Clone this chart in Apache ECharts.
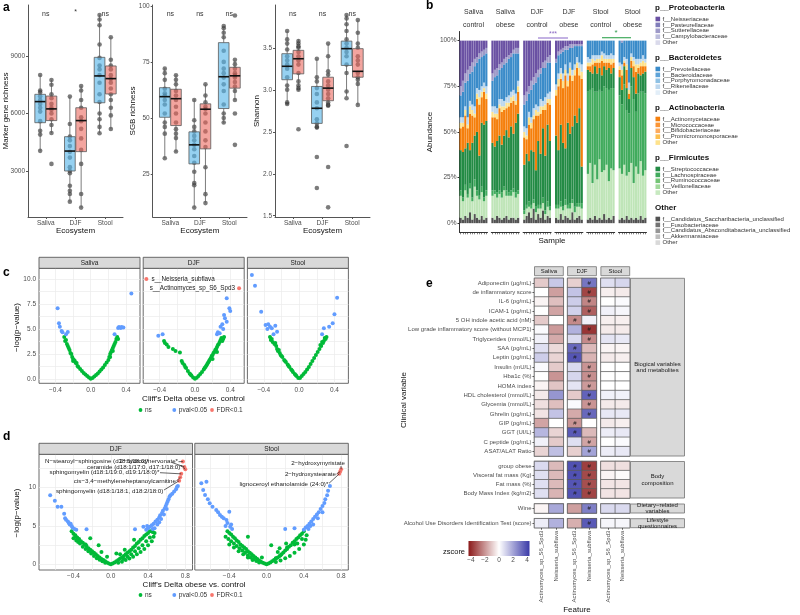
<!DOCTYPE html>
<html>
<head>
<meta charset="utf-8">
<script src="https://cdn.jsdelivr.net/npm/echarts@6.0.0/dist/echarts.min.js"></script>
<style>
  html, body { margin: 0; padding: 0; background: #fff; }
  #chart { width: 800px; height: 615px; }
</style>
</head>
<body>
<div id="chart"></div>
<script>
// ---------- panel a : marker gene richness / SGB richness / Shannon ----------
const ecosystems = ['Saliva', 'DJF', 'Stool'];

// points per ecosystem, box = [lower whisker, q1, median, q3, upper whisker]
const markerCtrlPts = [[8010, 7200, 7100, 6900, 6700, 6500, 6300, 6100, 5600, 5100, 4900, 4050],
  [6880, 5450, 4800, 4600, 4300, 4000, 3700, 3200, 3000, 2880, 2230, 1970, 1800, 1400],
  [11140, 10900, 10600, 9600, 8900, 8500, 8300, 8000, 7600, 7000, 6600, 6000, 5700, 5300, 4970]];
const markerObesePts = [[7750, 7500, 7000, 6800, 6500, 6300, 6200, 6000, 5700, 5400, 4980, 3370],
  [7430, 7200, 6700, 6300, 5800, 5600, 5200, 4700, 4100, 3370, 1800, 1090],
  [9980, 8800, 8500, 8300, 8000, 7800, 7600, 7300, 7000, 6700, 6300, 5900, 5190]];
const markerCtrlBox = [[4050, 5520, 6620, 7000, 8010], [1400, 3000, 4040, 4790, 6880], [4970, 6560, 7960, 8930, 11140]];
const markerObeseBox = [[4980, 5630, 6240, 6910, 7750], [1090, 4010, 5630, 6300, 7430], [5190, 7020, 7820, 8480, 9980]];
const markerSig = ['ns', '*', 'ns'];

const sgbCtrlPts = [[72, 70, 67, 63, 61, 60, 58, 56, 52, 48, 46, 43, 32],
  [58, 49, 46, 44, 42, 40, 38, 36, 33, 30, 26, 21, 20, 10],
  [91, 90, 88, 86, 80, 75, 72, 70, 68, 65, 62, 56, 52, 50, 48]];
const sgbObesePts = [[69, 67, 65, 62, 60, 58, 55, 52, 48, 45, 43, 41, 35],
  [65, 60, 57, 55, 54, 52, 48, 44, 40, 37, 28, 16, 12],
  [95.7, 76, 74, 72, 70, 69, 68, 66, 64, 62, 58, 52, 38]];
const sgbCtrlBox = [[32, 50.3, 59.5, 63.5, 72.2], [10, 29.5, 38, 43.8, 58.3], [47.6, 54.2, 68.4, 83.6, 91]];
const sgbObeseBox = [[34.8, 46.6, 58.6, 62.8, 69.2], [12.2, 36.2, 53.9, 56.3, 65], [58, 63.3, 68.8, 72.6, 75.9]];
const sgbSig = ['ns', 'ns', 'ns'];

const shanCtrlPts = [[3.70, 3.60, 3.55, 3.48, 3.40, 3.35, 3.30, 3.25, 3.15, 3.05, 3.00, 2.85, 2.83],
  [3.37, 3.15, 3.10, 3.02, 2.95, 2.85, 2.78, 2.65, 2.60, 2.56, 2.55, 2.20, 1.83],
  [3.89, 3.85, 3.78, 3.70, 3.60, 3.55, 3.50, 3.45, 3.40, 3.30, 3.20, 2.98, 2.90, 2.33]];
const shanObesePts = [[3.58, 3.55, 3.52, 3.50, 3.45, 3.40, 3.35, 3.30, 3.20, 3.10, 3.05, 3.02, 3.00, 2.53],
  [3.55, 3.40, 3.22, 3.18, 3.10, 3.05, 3.00, 2.95, 2.90, 2.85, 2.82, 2.81, 2.08, 1.60],
  [3.83, 3.68, 3.55, 3.50, 3.40, 3.35, 3.30, 3.20, 3.15, 3.12, 3.07, 2.82]];
const shanCtrlBox = [[2.84, 3.12, 3.28, 3.43, 3.70], [2.56, 2.60, 2.78, 3.04, 3.37], [2.92, 3.29, 3.49, 3.58, 3.89]];
const shanObeseBox = [[3.00, 3.19, 3.37, 3.47, 3.60], [2.81, 2.87, 3.02, 3.15, 3.55], [2.82, 3.15, 3.22, 3.49, 3.83]];
const shanSig = ['ns', 'ns', 'ns'];

// ---------- panel b : family abundance (%) per sample, 6 facets x 12 samples ----------
const bFacets = [['Saliva', 'control'], ['Saliva', 'obese'], ['DJF', 'control'], ['DJF', 'obese'], ['Stool', 'control'], ['Stool', 'obese']];
const sampleIds = ['1', '2', '3', '4', '5', '6', '7', '8', '9', '10', '11', '12'];
const abOther = [3,2,4,3,6,2,5,3,2,4,2,3, 3,2,4,3,2,3,4,2,3,3,2,3, 2,4,6,3,8,2,5,3,7,2,4,3,
  3,2,5,2,4,3,2,6,2,3,4,2, 2,3,2,4,2,3,2,5,2,3,2,4, 2,3,2,4,2,3,2,3,2,4,2,3];
const abFirmOther = [12,10,14,11,13,10,15,12,11,13,10,12, 12,14,10,13,12,15,11,13,12,14,12,13, 3,4,3,5,3,4,3,5,4,3,5,4,
  5,6,4,5,6,5,6,5,4,6,5,6, 25,30,20,28,22,32,26,24,30,20,28,25, 28,24,30,22,26,30,20,28,25,30,24,26];
const abLachno = [3,2,3,2,3,2,4,3,2,3,2,3, 3,2,3,2,3,2,3,2,3,2,3,2, 2,2,3,2,2,3,2,2,3,2,3,2,
  2,2,3,2,3,2,3,2,3,2,2,3, 45,40,52,40,48,38,44,46,42,50,44,45, 40,38,44,36,32,42,46,30,44,38,46,42];
const abStrep = [22,25,20,28,18,30,24,32,22,35,40,38, 26,24,28,30,26,28,33,30,35,30,38,42, 25,28,22,30,26,20,35,28,38,30,42,36,
  38,30,42,35,28,45,38,40,50,44,52,20, 12,10,8,14,10,12,9,11,10,12,8,11, 10,8,10,12,8,10,12,10,11,9,10,12];
const abActino = [12,14,18,8,20,15,10,18,28,14,18,12, 14,16,12,15,18,14,12,17,13,18,10,12, 15,8,20,12,18,30,14,22,10,25,12,20,
  22,35,25,30,40,20,32,25,22,30,18,48, 2,3,5,2,6,3,8,2,4,3,5,3, 4,8,2,10,3,4,6,12,3,5,4,3];
const abActOther = [3,2,3,2,4,3,2,3,4,3,2,3, 3,2,3,2,3,2,3,2,3,3,2,3, 3,2,4,3,2,3,2,4,2,3,2,3,
  3,4,3,4,3,3,4,3,3,3,4,4, 2,2,3,1,2,2,3,2,2,2,3,2, 2,3,1,3,2,2,3,4,2,2,3,2];
const abBacOther = [3,3,2,4,3,3,4,3,4,3,3,4, 3,4,3,3,4,3,3,4,3,3,4,3, 3,4,3,3,4,3,3,4,3,4,3,4,
  3,3,3,4,3,4,3,3,3,3,3,4, 3,2,2,3,2,2,2,3,2,2,3,2, 2,3,2,3,4,2,2,3,3,2,3,2];
const abPrevo = [12,14,13,20,15,18,22,14,17,16,15,18, 14,16,18,16,17,20,19,20,19,20,22,15, 12,15,10,15,13,12,16,14,18,16,17,16,
  12,10,8,12,8,13,8,12,10,6,9,10, 9,10,8,8,8,8,6,7,8,8,7,8, 12,12,9,10,23,7,9,10,10,10,8,10];
const abProOther = [5,6,5,6,4,5,4,3,3,3,3,3, 4,4,4,3,3,3,3,2,2,2,3,3, 5,5,4,5,4,5,4,3,3,4,3,4,
  2,2,2,2,2,2,2,2,1,1,1,1, 0,0,0,0,0,0,0,0,0,0,0,0, 0,1,0,0,0,0,0,0,0,0,0,0];
const abNeiss = [25,22,18,16,14,12,10,9,7,6,5,4, 18,16,15,13,12,10,9,8,7,5,4,4, 30,28,25,22,20,18,16,15,12,11,9,8,
  10,6,5,4,3,3,2,2,2,2,2,2, 0,0,0,0,0,0,0,0,0,0,0,0, 0,0,0,0,0,0,0,0,0,0,0,0];

const legProteo = ['f__Neisseriaceae', 'f__Pasteurellaceae', 'f__Sutterellaceae', 'f__Campylobacteraceae', 'Other'];
const legBactero = ['f__Prevotellaceae', 'f__Bacteroidaceae', 'f__Porphyromonadaceae', 'f__Rikenellaceae', 'Other'];
const legActino = ['f__Actinomycetaceae', 'f__Micrococcaceae', 'f__Bifidobacteriaceae', 'f__Promicromonosporaceae', 'Other'];
const legFirm = ['f__Streptococcaceae', 'f__Lachnospiraceae', 'f__Ruminococcaceae', 'f__Veillonellaceae', 'Other'];
const legOther = ['f__Candidatus_Saccharibacteria_unclassified', 'f__Fusobacteriaceae', 'f__Candidatus_Absconditabacteria_unclassified', 'f__Akkermansiaceae', 'Other'];

// ---------- panel c : species volcano [cliff's delta, -log p] ----------
const cSalivaNs = [[-0.30,4.2],[-0.29,3.8],[-0.28,3.9],[-0.27,3.5],[-0.26,3.3],[-0.25,3.1],[-0.24,2.9],[-0.23,2.6],[-0.22,2.5],[-0.21,2.2],[-0.20,2.0],[-0.19,1.9],[-0.18,1.8],[-0.17,1.6],[-0.16,1.6],[-0.15,1.3],[-0.14,1.2],[-0.12,1.0],[-0.10,0.8],[-0.08,0.6],[-0.06,0.45],[-0.04,0.3],[-0.02,0.15],[0,0.02],[0.02,0.1],[0.04,0.25],[0.06,0.4],[0.08,0.55],[0.10,0.75],[0.12,0.95],[0.14,1.15],[0.16,1.4],[0.18,1.65],[0.20,1.9],[0.21,2.2],[0.22,2.5],[0.23,2.7],[0.24,2.9],[0.25,3.1],[0.26,3.3],[0.27,3.5],[0.28,3.7],[0.29,4.0],[0.30,4.2],[0.25,2.8],[0.22,2.2],[-0.20,1.8],[0.31,4.0]];
const cSalivaP = [[-0.375,7.07],[-0.36,5.57],[-0.35,5.23],[-0.33,4.8],[-0.32,4.67],[-0.28,4.47],[-0.26,4.7],[0.27,4.47],[0.31,5.1],[0.32,5.2],[0.34,5.1],[0.35,5.2],[0.37,5.15],[0.46,8.55]];
const cSalivaFdr = [];
const cDjfNs = [[-0.35,3.8],[-0.34,3.6],[-0.32,3.45],[-0.30,3.2],[-0.25,3.0],[-0.22,2.8],[-0.17,2.65],[-0.15,1.8],[-0.14,1.6],[-0.12,1.4],[-0.11,1.2],[-0.10,1.1],[-0.08,0.8],[-0.06,0.55],[-0.05,0.45],[-0.04,0.35],[-0.02,0.15],[0,0.02],[0.02,0.12],[0.04,0.3],[0.06,0.5],[0.08,0.7],[0.10,0.95],[0.11,1.1],[0.12,1.2],[0.13,1.35],[0.14,1.5],[0.15,1.65],[0.16,1.8],[0.17,1.95],[0.18,2.1],[0.19,2.3],[0.20,2.4],[0.21,2.6],[0.22,2.7],[0.23,2.9],[0.24,3.0],[0.25,3.2],[0.26,3.4],[0.27,3.5],[0.28,3.7],[0.29,3.9],[0.30,4.1],[0.31,3.8],[0.32,4.0],[0.33,4.2],[0.20,2.0],[0.25,2.7]];
const cDjfP = [[-0.415,4.33],[-0.366,4.47],[0.25,4.47],[0.26,4.67],[0.28,4.57],[0.29,5.23],[0.31,5.47],[0.32,5.0],[0.33,6.4],[0.34,6.07],[0.36,5.73],[0.36,8.07],[0.39,7.07],[0.40,6.8]];
const cDjfFdr = [[-0.55,10.0],[0.50,9.07]];
const cDjfFdrNames = ['s__Neisseria_subflava', 's__Actinomyces_sp_S6_Spd3'];
const cStoolNs = [[-0.33,4.2],[-0.32,3.9],[-0.31,4.0],[-0.30,3.7],[-0.28,3.5],[-0.27,3.6],[-0.26,3.3],[-0.25,3.0],[-0.24,2.8],[-0.23,2.9],[-0.22,2.6],[-0.21,2.4],[-0.20,2.3],[-0.19,2.2],[-0.17,1.9],[-0.16,1.8],[-0.15,1.7],[-0.13,1.45],[-0.12,1.3],[-0.11,1.2],[-0.09,0.95],[-0.08,0.85],[-0.07,0.7],[-0.05,0.5],[-0.04,0.4],[-0.03,0.3],[-0.01,0.1],[0.01,0.1],[0.03,0.3],[0.05,0.5],[0.07,0.7],[0.09,0.95],[0.11,1.2],[0.13,1.5],[0.15,1.8],[0.17,2.1],[0.19,2.4],[0.21,2.7],[0.23,3.0],[0.24,3.4],[0.25,3.3],[0.26,3.7],[0.27,3.6],[0.28,3.8],[0.29,4.1],[0.30,4.0],[0.31,4.2]];
const cStoolP = [[-0.535,10.4],[-0.50,9.33],[-0.43,6.73],[-0.38,5.4],[-0.36,5.0],[-0.35,5.47],[-0.33,5.23],[-0.31,5.07],[-0.29,4.47],[-0.27,5.33],[-0.25,4.73],[0.26,4.47],[0.28,5.07],[0.34,5.23],[0.38,5.57],[0.40,6.47],[0.43,8.13]];
const cStoolFdr = [];

// ---------- panel d : metabolite volcano ----------
const dDjfNs = [[-0.42,4.3],[-0.40,4.0],[-0.38,3.8],[-0.36,3.5],[-0.34,3.3],[-0.32,3.0],[-0.30,2.8],[-0.28,2.6],[-0.26,2.4],[-0.24,2.1],[-0.22,1.9],[-0.20,1.7],[-0.18,1.5],[-0.16,1.3],[-0.14,1.1],[-0.12,0.9],[-0.10,0.7],[-0.08,0.55],[-0.06,0.4],[-0.04,0.25],[-0.02,0.1],[0,0],
  [-0.40,3.4],[-0.37,3.1],[-0.35,2.9],[-0.33,2.7],[-0.30,2.3],[-0.27,2.0],[-0.24,1.7],[-0.21,1.4],[-0.18,1.1],[-0.15,0.8],[-0.12,0.6],[-0.09,0.4],[-0.06,0.2],
  [-0.38,3.6],[-0.27,2.6],[-0.22,3.4],[-0.13,2.5],[-0.10,1.6],[-0.04,1.0],[0.06,1.4],[0.10,1.3],[0.15,1.9],[0.25,3.2],
  [0.02,0.1],[0.04,0.25],[0.06,0.4],[0.08,0.55],[0.10,0.75],[0.12,0.9],[0.14,1.1],[0.16,1.3],[0.18,1.5],[0.20,1.7],[0.22,1.9],[0.24,2.2],[0.26,2.4],[0.28,2.7],[0.30,2.9],[0.32,3.2],[0.34,3.4],[0.36,3.7],[0.38,3.9],[0.40,4.1],[0.42,4.3],[0.44,4.3],
  [0.08,0.2],[0.12,0.35],[0.16,0.55],[0.20,0.75],[0.24,1.0],[0.28,1.3],[0.32,1.6],[0.36,2.0],[0.40,2.5],[0.44,3.0],[0.46,3.6],[0.47,4.1],[0.14,0.7],[0.18,1.0],[0.22,1.3],[0.26,1.7],[0.30,2.1],[0.34,2.5],[0.38,3.0],[0.42,3.5],[0.45,4.2]];
const dDjfP = [[-0.65,9.0],[-0.60,8.3],[-0.57,7.5],[-0.53,7.5],[-0.50,6.6],[-0.49,6.0],[-0.48,5.8],[-0.46,5.6],[-0.45,5.4],[-0.44,5.2],[-0.43,5.3],[-0.42,5.0],[-0.41,4.8],[-0.39,4.6],[-0.37,4.5],[-0.26,4.56],
  [0.26,4.56],[0.35,4.9],[0.38,4.5],[0.39,5.0],[0.40,4.7],[0.42,4.9],[0.44,5.1],[0.45,4.6],[0.46,5.3],[0.47,4.7],[0.48,5.6],[0.50,5.8],[0.50,5.2],[0.52,6.1],[0.52,5.5],[0.53,6.4],[0.54,5.9],[0.55,6.7],[0.56,7.0],[0.57,6.5],[0.58,7.3],[0.59,7.6],[0.60,7.9],[0.60,7.2],[0.61,8.2],[0.62,8.5],[0.63,8.8],[0.64,9.0],[0.66,9.2],[0.68,9.5],[0.70,9.8],[0.71,10.1],[0.72,10.2]];
const dDjfFdr = [[0.774,13.4],[0.79,12.7],[0.80,12.4],[0.756,11.8],[0.745,11.35],[0.734,10.9]];
const dDjfFdrNames = ['2\u2212hydroxynervonate*', 'N\u2212stearoyl\u2212sphingosine (d18:1/18:0)*', 'ceramide (d18:1/17:0, d17:1/18:0)*',
  'sphingomyelin (d18:1/19:0, d19:1/18:0)*', 'cis\u22123,4\u2212methyleneheptanoylcarnitine', 'sphingomyelin (d18:1/18:1, d18:2/18:0)'];
const dStoolNs = [[-0.42,4.3],[-0.40,4.1],[-0.38,3.9],[-0.36,3.6],[-0.34,3.4],[-0.32,3.1],[-0.30,2.9],[-0.28,2.6],[-0.26,2.4],[-0.24,2.2],[-0.22,2.0],[-0.20,1.7],[-0.18,1.5],[-0.16,1.3],[-0.14,1.1],[-0.12,0.9],[-0.10,0.7],[-0.08,0.5],[-0.06,0.35],[-0.04,0.2],[-0.02,0.1],[0,0],
  [-0.44,3.6],[-0.41,3.3],[-0.38,3.0],[-0.35,2.7],[-0.32,2.4],[-0.29,2.1],[-0.26,1.8],[-0.23,1.5],[-0.20,1.2],[-0.17,0.9],[-0.14,0.65],[-0.11,0.45],[-0.08,0.25],[-0.40,2.6],[-0.35,2.2],[-0.30,1.7],[-0.25,1.3],[-0.20,0.9],[-0.15,0.55],
  [-0.20,3.6],[-0.05,0.9],[0.05,2.5],[0.14,2.1],[0.21,2.7],[0.12,1.6],[0.22,2.2],[0.30,2.6],[0.15,1.2],[0.10,0.8],
  [0.02,0.1],[0.04,0.25],[0.06,0.4],[0.08,0.55],[0.10,0.75],[0.12,0.9],[0.14,1.1],[0.16,1.3],[0.18,1.55],[0.20,1.8],[0.22,2.0],[0.24,2.3],[0.26,2.5],[0.28,2.8],[0.30,3.0],[0.32,3.3],[0.34,3.5],[0.36,3.8],[0.38,4.0],[0.40,4.3],
  [0.10,0.3],[0.15,0.5],[0.20,0.8],[0.25,1.1],[0.30,1.5],[0.35,2.0],[0.40,2.6],[0.42,3.2],[0.43,3.8],[0.33,2.7],[0.38,3.3]];
const dStoolP = [[-0.70,10.56],[-0.645,10.77],[-0.68,9.69],[-0.66,9.04],[-0.63,8.5],[-0.61,7.95],[-0.58,7.5],[-0.54,7.08],[-0.52,6.8],[-0.50,6.43],[-0.48,6.2],[-0.46,6.0],[-0.44,5.0],[-0.43,5.78],[-0.42,5.4],[-0.40,6.86],[-0.39,4.9],[-0.38,5.2],[-0.37,4.6],
  [0.20,4.6],[0.30,4.7],[0.40,4.5],[0.42,4.8],[0.44,5.0],[0.45,4.6],[0.46,5.3],[0.47,5.0],[0.48,5.6],[0.50,5.9],[0.50,5.2],[0.52,6.2],[0.54,6.5],[0.55,6.0],[0.56,6.8],[0.58,7.2],[0.60,7.6],[0.60,6.8],[0.62,8.0],[0.63,8.5],[0.65,9.0],[0.66,9.6],[0.68,10.2]];
const dStoolFdr = [[0.80,12.4],[0.79,12.1],[0.78,11.8]];
const dStoolFdrNames = ['2\u2212hydroxymyristate', '2\u2212hydroxystearate', 'lignoceroyl ethanolamide (24:0)*'];

// ---------- panel e : z-scores [Saliva A, Saliva N, DJF A, DJF N, Stool A, Stool N] ----------
const features = ['Actinomyces_sp_S6_Spd3', 'Neisseria_subflava'];
const heatCols = ['Saliva', 'DJF', 'Stool'];
const bioVars = ['Adiponectin (\u00b5g/mL)', 'de inflammatory score', 'IL-6 (pg/mL)', 'ICAM-1 (pg/mL)', '5 OH indole acetic acid (nM)',
  'Low grade inflammatory score (without MCP1)', 'Triglycerides (mmol/L)', 'SAA (pg/mL)', 'Leptin (pg/mL)', 'Insulin (mU/L)',
  'Hba1c (%)', 'HOMA index', 'HDL cholesterol (mmol/L)', 'Glycemia (mmol/L)', 'Ghrelin (pg/mL)', 'GIP (pg/mL)', 'GGT (UI/L)',
  'C peptide (pg/mL)', 'ASAT/ALAT Ratio'];
const zBio = [[-1.0, 1.2, -0.9, 3.0, 0.7, 0.9], [0.0, -1.8, 1.3, -3.5, -0.3, -0.4], [-0.2, -1.2, 1.1, -2.3, 0.0, 0.1],
  [0.0, -1.7, 1.0, -3.0, 0.3, 0.2], [-1.0, 0.0, -2.2, 0.3, -0.3, -0.3], [0.1, -1.9, 1.7, -3.8, -0.4, -0.4],
  [0.3, -1.6, 0.8, -2.2, 0.6, 0.5], [0.7, -0.7, 3.3, -1.3, -0.2, -0.2], [1.1, -0.8, 3.7, -1.4, -0.4, -0.3],
  [0.1, -1.0, 0.8, -2.0, 0.0, 0.0], [0.0, -2.0, 0.9, -2.1, 0.0, 0.0], [-0.2, -1.1, 0.6, -1.9, 0.0, 0.0],
  [-0.4, 2.3, -1.0, 3.4, 0.3, 0.3], [-0.6, -1.2, 0.1, -2.0, -0.4, -0.4], [-0.5, 1.3, -1.6, 3.3, 0.5, 0.5],
  [-1.7, 0.0, -2.0, 0.0, -0.4, -0.3], [1.6, -0.8, 3.6, -1.3, 0.4, 0.5], [0.3, -1.0, 0.7, -1.7, 0.0, 0.1],
  [-0.8, 1.4, -0.9, 2.0, 0.4, 0.5]];
const sigBio = [[3], [3], [3], [3], [2], [3], [3], [2], [2], [3], [3], [3], [3], [3], [3], [2], [2], [3], [3]];
const bodyVars = ['group obese', 'Visceral fat mass (Kg)', 'Fat mass (%)', 'Body Mass Index (kg/m2)'];
const zBody = [[0.8, -1.3, 3.8, -3.6, -0.6, -0.6], [0.7, -1.3, 3.8, -3.4, -0.2, -0.1], [0.7, -1.3, 3.7, -3.3, -0.5, -0.5], [0.7, -1.4, 3.8, -3.5, -0.5, -0.5]];
const sigBody = [[2, 3], [2, 3], [2, 3], [2, 3]];
const dietVars = ['Wine'];
const zDiet = [[-0.2, 1.9, -1.8, 2.8, 0.8, 0.8]];
const sigDiet = [[3]];
const lifeVars = ['Alcohol Use Disorders Identification Test (score)'];
const zLife = [[0.4, 1.7, -1.5, 3.6, 0.2, 0.2]];
const sigLife = [[3]];
const zTicks = [-4, -2, 0, 2, 4];

// ---------- styling ----------
const FONT = '"Liberation Sans", Arial, Helvetica, sans-serif';
const TICK = { fontSize: 6.5, color: '#4d4d4d', fontFamily: FONT };
const CTRL_FILL = 'rgba(86,180,233,0.62)';
const OBESE_FILL = 'rgba(235,100,90,0.58)';
const NS_GREEN = '#00BA38', P_BLUE = '#619CFF', FDR_RED = '#F8766D';
const DODGE = 0.19, BOXW = 0.36;
const fmtNum = (v, dec) => (v < 0 ? '\u2212' : '') + Math.abs(v).toFixed(dec);

const grids = [], xAxes = [], yAxes = [], series = [], heatIdx = [];

// ---------- panel a ----------
const aPanels = [
  { left: 28, width: 95, min: 600, max: 11660, ticks: [3000, 6000, 9000], dec: 0, title: 'Marker gene richness', titleX: 6,
    ctrl: markerCtrlPts, obese: markerObesePts, ctrlBox: markerCtrlBox, obeseBox: markerObeseBox, sig: markerSig },
  { left: 152.7, width: 94.3, min: 5.8, max: 100.4, ticks: [25, 50, 75, 100], dec: 0, title: 'SGB richness', titleX: 133,
    ctrl: sgbCtrlPts, obese: sgbObesePts, ctrlBox: sgbCtrlBox, obeseBox: sgbObeseBox, sig: sgbSig },
  { left: 275, width: 95, min: 1.485, max: 4.01, ticks: [1.5, 2, 2.5, 3, 3.5], dec: 1, title: 'Shannon', titleX: 257,
    ctrl: shanCtrlPts, obese: shanObesePts, ctrlBox: shanCtrlBox, obeseBox: shanObeseBox, sig: shanSig }
];

function boxRender(fill) {
  return function (params, api) {
    const x = api.value(0);
    const lo = api.coord([x, api.value(1)]), q1 = api.coord([x, api.value(2)]);
    const md = api.coord([x, api.value(3)]), q3 = api.coord([x, api.value(4)]), hi = api.coord([x, api.value(5)]);
    const hw = api.size([BOXW / 2, 0])[0];
    const ws = { stroke: '#5a5a5a', lineWidth: 0.8 };
    return { type: 'group', children: [
      { type: 'line', shape: { x1: lo[0], y1: lo[1], x2: q1[0], y2: q1[1] }, style: ws },
      { type: 'line', shape: { x1: q3[0], y1: q3[1], x2: hi[0], y2: hi[1] }, style: ws },
      { type: 'rect', shape: { x: q3[0] - hw, y: q3[1], width: 2 * hw, height: q1[1] - q3[1] }, style: { fill, stroke: '#5a5a5a', lineWidth: 0.8 } },
      { type: 'line', shape: { x1: md[0] - hw, y1: md[1], x2: md[0] + hw, y2: md[1] }, style: { stroke: '#111', lineWidth: 1.6 } }
    ] };
  };
}

aPanels.forEach(p => {
  const gi = grids.length;
  p.gi = gi;
  grids.push({ left: p.left, top: 5, width: p.width, height: 212 });
  xAxes.push({
    gridIndex: gi, type: 'value', min: 0.4, max: 3.6,
    axisLine: { show: true, onZero: false, lineStyle: { color: '#555', width: 1 } },
    axisTick: { show: true, length: 2, customValues: [1, 2, 3], lineStyle: { color: '#555' } },
    axisLabel: { ...TICK, margin: 3, customValues: [1, 2, 3], formatter: v => ecosystems[Math.round(v) - 1] },
    splitLine: { show: false }
  });
  yAxes.push({
    gridIndex: gi, type: 'value', min: p.min, max: p.max,
    axisLine: { show: true, onZero: false, lineStyle: { color: '#555', width: 1 } },
    axisTick: { show: true, length: 2, customValues: p.ticks, lineStyle: { color: '#555' } },
    axisLabel: { ...TICK, margin: 3, customValues: p.ticks, formatter: v => v.toFixed(p.dec) },
    splitLine: { show: false }
  });
  [[p.ctrl, p.ctrlBox, -DODGE, CTRL_FILL], [p.obese, p.obeseBox, DODGE, OBESE_FILL]].forEach(([pts, box, off, fill]) => {
    series.push({
      type: 'scatter', xAxisIndex: gi, yAxisIndex: gi, z: 2, silent: true, symbolSize: 4.6,
      itemStyle: { color: 'rgba(45,45,45,0.78)' },
      data: pts.flatMap((vals, i) => vals.map(v => [i + 1 + off, v]))
    });
    series.push({
      type: 'custom', xAxisIndex: gi, yAxisIndex: gi, z: 3, silent: true,
      renderItem: boxRender(fill),
      data: box.map((b, i) => [i + 1 + off, ...b])
    });
  });
});

// ---------- panel b ----------
const bLegend = [
  { title: 'p__Proteobacteria', names: legProteo, colors: ['#6a51a3', '#807dba', '#9e9ac8', '#bcbddc', '#dadaeb'] },
  { title: 'p__Bacteroidetes', names: legBactero, colors: ['#3a8bc9', '#5ea3d8', '#8fc1e4', '#bcd7ee', '#e2eef8'] },
  { title: 'p__Actinobacteria', names: legActino, colors: ['#f57f0c', '#fb9535', '#fdab5e', '#fdbf4e', '#fee28c'] },
  { title: 'p__Firmicutes', names: legFirm, colors: ['#238b45', '#41ab5d', '#74c476', '#a1d99b', '#c7e9c0'] },
  { title: 'Other', names: legOther, colors: ['#525252', '#737373', '#969696', '#bdbdbd', '#d9d9d9'] }
];
const bLayers = [
  { values: abOther, color: '#525252' },
  { values: abFirmOther, color: '#bfe5b8' },
  { values: abLachno, color: '#41ab5d' },
  { values: abStrep, color: '#238b45' },
  { values: abActino, color: '#f57f0c' },
  { values: abActOther, color: '#fee28c' },
  { values: abBacOther, color: '#bcd7ee' },
  { values: abPrevo, color: '#3a8bc9' },
  { values: abProOther, color: '#9e9ac8' },
  { values: abNeiss, color: '#6a51a3' }
];
const bLeft = [];
bFacets.forEach((f, k) => {
  const gi = grids.length;
  const left = 459.5 + k * 31.8;
  bLeft.push(left);
  grids.push({ left, top: 31.5, width: 28, height: 200.8 });
  xAxes.push({
    gridIndex: gi, type: 'category', data: sampleIds,
    axisLine: { show: true, onZero: false, lineStyle: { color: '#333', width: 1 } },
    axisTick: { show: true, length: 2, interval: 0, alignWithLabel: true, lineStyle: { color: '#333', width: 0.6 } },
    axisLabel: { show: false }, splitLine: { show: false }
  });
  yAxes.push({
    gridIndex: gi, type: 'value', min: -5, max: 105,
    axisLine: { show: k === 0, onZero: false, lineStyle: { color: '#333', width: 1 } },
    axisTick: { show: k === 0, length: 2, customValues: [0, 25, 50, 75, 100], lineStyle: { color: '#333' } },
    axisLabel: { show: k === 0, ...TICK, margin: 3, customValues: [0, 25, 50, 75, 100], formatter: v => v + '%' },
    splitLine: { show: false }
  });
  bLayers.forEach(layer => series.push({
    type: 'bar', xAxisIndex: gi, yAxisIndex: gi, stack: 'facet' + k, silent: true,
    barCategoryGap: '6%', itemStyle: { color: layer.color },
    data: layer.values.slice(k * 12, k * 12 + 12)
  }));
});

// ---------- panels c & d ----------
function volcanoFacet(f, o, first) {
  const gi = grids.length;
  f.gi = gi;
  grids.push({ left: f.left, top: o.top, width: o.width, height: o.height, show: true, borderColor: '#595959', borderWidth: 0.9, backgroundColor: '#fff' });
  xAxes.push({
    gridIndex: gi, type: 'value', min: o.xMin, max: o.xMax,
    axisLine: { show: false, onZero: false }, axisTick: { show: false, customValues: o.xGrid },
    axisLabel: { ...TICK, margin: 3, customValues: o.xLabels, formatter: v => fmtNum(v, 1) },
    splitLine: { show: true, lineStyle: { color: '#ebebeb', width: 0.7 } }
  });
  yAxes.push({
    gridIndex: gi, type: 'value', min: o.yMin, max: o.yMax,
    axisLine: { show: false, onZero: false }, axisTick: { show: false, customValues: o.yGrid },
    axisLabel: { show: first, ...TICK, margin: 3, customValues: o.yLabels, formatter: v => v.toFixed(o.yDec) },
    splitLine: { show: true, lineStyle: { color: '#ebebeb', width: 0.7 } }
  });
  [[f.ns, NS_GREEN], [f.p, P_BLUE], [f.fdr, FDR_RED]].forEach(([d, col]) => series.push({
    type: 'scatter', xAxisIndex: gi, yAxisIndex: gi, silent: true, symbolSize: o.sym,
    itemStyle: { color: col, opacity: 1 }, data: d
  }));
}
const cOpt = { top: 268.3, width: 101, height: 115, xMin: -0.586, xMax: 0.558, xGrid: [-0.4, -0.2, 0, 0.2, 0.4], xLabels: [-0.4, 0, 0.4],
  yMin: -0.43, yMax: 11.07, yGrid: [0, 1.25, 2.5, 3.75, 5, 6.25, 7.5, 8.75, 10], yLabels: [0, 2.5, 5, 7.5, 10], yDec: 1, sym: 4 };
const cFacets = [
  { name: 'Saliva', left: 39, ns: cSalivaNs, p: cSalivaP, fdr: cSalivaFdr },
  { name: 'DJF', left: 143.2, ns: cDjfNs, p: cDjfP, fdr: cDjfFdr },
  { name: 'Stool', left: 247.4, ns: cStoolNs, p: cStoolP, fdr: cStoolFdr }
];
cFacets.forEach((f, k) => volcanoFacet(f, cOpt, k === 0));
const dOpt = { top: 454.3, width: 153.5, height: 115.7, xMin: -0.77, xMax: 0.877, xGrid: [-0.6, -0.4, -0.2, 0, 0.2, 0.4, 0.6, 0.8], xLabels: [-0.4, 0, 0.4, 0.8],
  yMin: -0.74, yMax: 14.35, yGrid: [0, 2.5, 5, 7.5, 10, 12.5], yLabels: [0, 5, 10], yDec: 0, sym: 4 };
const dFacets = [
  { name: 'DJF', left: 39, ns: dDjfNs, p: dDjfP, fdr: dDjfFdr },
  { name: 'Stool', left: 194.8, ns: dStoolNs, p: dStoolP, fdr: dStoolFdr }
];
dFacets.forEach((f, k) => volcanoFacet(f, dOpt, k === 0));

// ---------- panel e ----------
const eColLeft = [534.5, 567.6, 600.9];
const eColW = 28.8;
const eGroups = [
  { vars: bioVars, z: zBio, sig: sigBio, top: 278.3, h: 177.7, strip: 'Biogical variables\nand metabolites' },
  { vars: bodyVars, z: zBody, sig: sigBody, top: 461.5, h: 36.5, strip: 'Body\ncomposition' },
  { vars: dietVars, z: zDiet, sig: sigDiet, top: 504, h: 9, strip: 'Dietary\u2212related\nvariables' },
  { vars: lifeVars, z: zLife, sig: sigLife, top: 518.7, h: 9, strip: 'Lifestyle\nquestionnaires' }
];
eGroups.forEach((g, gIdx) => {
  heatCols.forEach((c, ci) => {
    const gi = grids.length;
    const last = gIdx === eGroups.length - 1;
    grids.push({ left: eColLeft[ci], top: g.top, width: eColW, height: g.h, show: true, borderColor: '#808080', borderWidth: 1.3 });
    xAxes.push({
      gridIndex: gi, type: 'category', data: features,
      axisLine: { show: false }, axisTick: { show: last, length: 2, alignWithLabel: true, lineStyle: { color: '#555' } },
      axisLabel: { show: last, rotate: 90, interval: 0, ...TICK, fontSize: 6, margin: 3 }, splitLine: { show: false }
    });
    yAxes.push({
      gridIndex: gi, type: 'category', data: g.vars, inverse: true,
      axisLine: { show: false }, axisTick: { show: ci === 0, length: 2, alignWithLabel: true, lineStyle: { color: '#555' } },
      axisLabel: { show: ci === 0, interval: 0, ...TICK, fontSize: 6, margin: 3 }, splitLine: { show: false }
    });
    const data = [];
    g.z.forEach((row, r) => [0, 1].forEach(j => data.push({ value: [j, r, row[2 * ci + j]], sig: g.sig[r].includes(2 * ci + j) })));
    heatIdx.push(series.length);
    series.push({
      type: 'heatmap', xAxisIndex: gi, yAxisIndex: gi, silent: true, data,
      itemStyle: { borderColor: '#5a5a5a', borderWidth: 0.7 },
      label: { show: true, formatter: p => (p.data.sig ? '#' : ''), fontSize: 6, color: '#1a1a1a', fontFamily: FONT },
      emphasis: { disabled: true }
    });
  });
});

const chart = echarts.init(document.getElementById('chart'));
chart.setOption({
  animation: false,
  textStyle: { fontFamily: FONT },
  grid: grids, xAxis: xAxes, yAxis: yAxes, series,
  visualMap: { show: false, type: 'continuous', min: -4.3, max: 4.3, dimension: 2, seriesIndex: heatIdx,
    inRange: { color: ['#8b1a1a', '#ffffff', '#3a3aa8'] } }
});

// ---------- annotations ----------
function txt(x, y, text, o = {}) {
  return { type: 'text', x, y, rotation: o.rot || 0, silent: true, z: 100,
    style: { text, fill: o.color || '#1a1a1a', fontSize: o.size || 6.5, fontFamily: FONT, fontWeight: o.bold ? 'bold' : 'normal',
      align: o.align || 'center', verticalAlign: o.va || 'middle', lineHeight: o.lh || undefined } };
}
function rect(x, y, w, h, fill, stroke, lw) {
  return { type: 'rect', silent: true, z: 90, shape: { x, y, width: w, height: h }, style: { fill, stroke: stroke || null, lineWidth: lw || 0 } };
}
function seg(x1, y1, x2, y2, stroke, lw) {
  return { type: 'line', silent: true, z: 95, shape: { x1, y1, x2, y2 }, style: { stroke, lineWidth: lw || 0.7 } };
}
const px = (gi, v) => chart.convertToPixel({ gridIndex: gi }, v);
const gfx = [];

// panel letters
gfx.push(txt(3, 8, 'a', { size: 12, bold: true, align: 'left', color: '#000' }));
gfx.push(txt(426, 6, 'b', { size: 12, bold: true, align: 'left', color: '#000' }));
gfx.push(txt(3, 273, 'c', { size: 12, bold: true, align: 'left', color: '#000' }));
gfx.push(txt(3, 437, 'd', { size: 12, bold: true, align: 'left', color: '#000' }));
gfx.push(txt(426, 284, 'e', { size: 12, bold: true, align: 'left', color: '#000' }));

// panel a texts
aPanels.forEach(p => {
  p.sig.forEach((s, i) => gfx.push(txt(px(p.gi, [i + 1, p.min])[0], s === '*' ? 12 : 14, s, { size: 7, color: '#333' })));
  gfx.push(txt(p.left + p.width / 2, 231, 'Ecosystem', { size: 8, color: '#111' }));
  gfx.push(txt(p.titleX, 111, p.title, { size: 8, color: '#111', rot: Math.PI / 2 }));
});

// panel b texts
bFacets.forEach((f, k) => {
  gfx.push(txt(bLeft[k] + 14, 11.7, f[0], { size: 7, color: '#333' }));
  gfx.push(txt(bLeft[k] + 14, 25, f[1], { size: 7, color: '#333' }));
});
gfx.push(seg(538, 38, 568, 38, '#9b7fd0', 1.2));
gfx.push(txt(553, 34, '***', { size: 7, color: '#8c6bc4' }));
gfx.push(seg(602, 37.7, 631, 37.7, '#41ab5d', 1.2));
gfx.push(txt(616, 33, '*', { size: 8, color: '#2e9a4c' }));
gfx.push(txt(430, 132, 'Abundance', { size: 8, color: '#111', rot: Math.PI / 2 }));
gfx.push(txt(552, 241, 'Sample', { size: 8, color: '#111' }));
bLegend.forEach((grp, g) => {
  const y0 = 8 + g * 50;
  gfx.push(txt(655, y0, grp.title, { size: 8, bold: true, align: 'left', color: '#111' }));
  grp.names.forEach((n, i) => {
    const y = y0 + 11 + i * 5.9;
    gfx.push(rect(655.5, y - 2.3, 4.6, 4.6, grp.colors[i]));
    gfx.push(txt(662.5, y, n, { size: 6, align: 'left', color: '#333' }));
  });
});

// facet strips for c and d
function strip(x, y, w, h, label) {
  gfx.push(rect(x, y, w, h, '#d9d9d9', '#595959', 0.9));
  gfx.push(txt(x + w / 2, y + h / 2, label, { size: 6.5, color: '#1a1a1a' }));
}
cFacets.forEach(f => strip(f.left, 257.3, cOpt.width, 11, f.name));
dFacets.forEach(f => strip(f.left, 443.3, dOpt.width, 11, f.name));

// axis titles and legends for c and d
function volcanoLegend(y) {
  [[140.5, 'ns', NS_GREEN], [174.3, 'pval<0.05', P_BLUE], [212, 'FDR<0.1', FDR_RED]].forEach(([x, t, col]) => {
    gfx.push({ type: 'circle', silent: true, z: 95, shape: { cx: x, cy: y, r: 1.9 }, style: { fill: col } });
    gfx.push(txt(x + 4.5, y, t, { size: 6.5, align: 'left', color: '#333' }));
  });
}
gfx.push(txt(17, 327.5, '\u2212log(p\u2212value)', { size: 8, color: '#111', rot: Math.PI / 2 }));
gfx.push(txt(193.5, 399, "Cliff's Delta obese vs. control", { size: 8, color: '#111' }));
volcanoLegend(410);
gfx.push(txt(17, 513, '\u2212log(p\u2212value)', { size: 8, color: '#111', rot: Math.PI / 2 }));
gfx.push(txt(194, 585, "Cliff's Delta obese vs. control", { size: 8, color: '#111' }));
volcanoLegend(595);

// labelled species in c (DJF)
{
  const gi = cFacets[1].gi;
  const p0 = px(gi, cDjfFdr[0]), p1 = px(gi, cDjfFdr[1]);
  gfx.push(txt(p0[0] + 5, p0[1], cDjfFdrNames[0], { size: 6.3, align: 'left' }));
  gfx.push(txt(p1[0] - 4, p1[1], cDjfFdrNames[1], { size: 6.3, align: 'right' }));
}

// labelled metabolites in d
{
  const gi = dFacets[0].gi;
  const pts = dDjfFdr.map(v => px(gi, v));
  const lab = [
    { i: 1, x: 45, y: 461.7, align: 'left', lx: 172, ly: 462.5 },
    { i: 0, x: 178, y: 461.7, align: 'right', lx: 178.5, ly: 461.7 },
    { i: 2, x: 182.7, y: 467.3, align: 'right', lx: 182.7, ly: 467.3 },
    { i: 3, x: 159.3, y: 472.7, align: 'right', lx: 160, ly: 472.7 },
    { i: 4, x: 176, y: 481, align: 'right', lx: 176.5, ly: 481 },
    { i: 5, x: 163.3, y: 491, align: 'right', lx: 164, ly: 490 }
  ];
  lab.forEach(l => {
    gfx.push(seg(l.lx, l.ly, pts[l.i][0], pts[l.i][1], '#222', 0.7));
    gfx.push(txt(l.x, l.y, dDjfFdrNames[l.i], { size: 6.2, align: l.align }));
  });
  const gs = dFacets[1].gi;
  const sp = dStoolFdr.map(v => px(gs, v));
  const slab = [
    { i: 0, x: 345, y: 463.3, lx: 341, ly: 466 },
    { i: 1, x: 336, y: 474.3, lx: 336.5, ly: 474 },
    { i: 2, x: 328.3, y: 484, lx: 329, ly: 483.3 }
  ];
  slab.forEach(l => {
    gfx.push(seg(l.lx, l.ly, sp[l.i][0], sp[l.i][1], '#222', 0.7));
    gfx.push(txt(l.x, l.y, dStoolFdrNames[l.i], { size: 6.2, align: 'right' }));
  });
}

// panel e strips, titles and colour bar
heatCols.forEach((c, ci) => {
  gfx.push(rect(eColLeft[ci], 266.7, eColW, 9, '#d9d9d9', '#808080', 0.9));
  gfx.push(txt(eColLeft[ci] + eColW / 2, 271.2, c, { size: 6, color: '#1a1a1a' }));
});
eGroups.forEach(g => {
  gfx.push(rect(630.5, g.top, 54, g.h, '#d9d9d9', '#808080', 0.9));
  gfx.push(txt(657.5, g.top + g.h / 2, g.strip, { size: 6, color: '#1a1a1a', lh: 6.5 }));
});
gfx.push(txt(404, 400, 'Clinical variable', { size: 8, color: '#111', rot: Math.PI / 2 }));
gfx.push(txt(577, 610, 'Feature', { size: 8, color: '#111' }));
gfx.push(txt(454, 552, 'zscore', { size: 7.5, color: '#111' }));
gfx.push({ type: 'rect', silent: true, z: 90, shape: { x: 468.5, y: 541, width: 61, height: 15 },
  style: { fill: new echarts.graphic.LinearGradient(0, 0, 1, 0, [
    { offset: 0, color: '#8b1a1a' }, { offset: 0.5, color: '#ffffff' }, { offset: 1, color: '#3a3aa8' }]) } });
zTicks.forEach(t => {
  const x = 499 + t * 7;
  gfx.push(txt(x, 560, fmtNum(t, 0), { size: 6.5, color: '#4d4d4d' }));
});

chart.setOption({ graphic: gfx });
</script>
</body>
</html>
